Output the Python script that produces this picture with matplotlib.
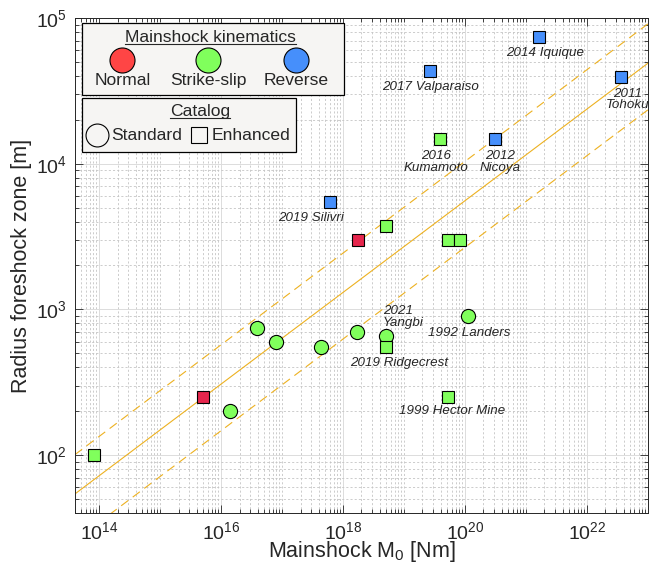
# -*- coding: utf-8 -*-

import matplotlib
matplotlib.use('Agg')
import matplotlib.pyplot as plt
from matplotlib.lines import Line2D
from matplotlib.patches import Rectangle
from matplotlib.ticker import FixedLocator, FuncFormatter, NullFormatter
import numpy as np

# standard catalog, strike-slip mainshocks (circles)
std_m0 = [1.38e16, 3.9e16, 7.8e16, 4.4e17, 1.67e18, 4.98e18, 1.11e20]
std_r = [199, 748, 598, 548, 702, 656, 904]

# enhanced catalog (squares)
enh_ss_m0 = [8.1e13, 4.98e18, 5.3e19, 8.1e19, 4.98e18, 5.3e19, 3.85e19]
enh_ss_r = [100, 3735, 2980, 2980, 553, 249, 14860]
enh_n_m0 = [5.0e15, 1.73e18]
enh_n_r = [249, 2980]
enh_rv_m0 = [6.07e17, 1.64e21, 2.67e19, 3.6e22, 3.05e20]
enh_rv_r = [5430, 74500, 43500, 39600, 14860]

# scaling relation and its bounds, end points over the x range
line_m0 = [4e13, 1e23]
line_mid = [54.1, 48980]
line_hi = [100.7, 91200]
line_lo = [25.9, 23440]

# event names: (M0, R, text)
events = [
    (6.07e17, 5430, '2019 Silivri'),
    (1.64e21, 74500, '2014 Iquique'),
    (2.67e19, 43500, '2017 Valparaiso'),
    (3.6e22, 39600, '2011\nTohoku'),
    (3.85e19, 14860, '2016\nKumamoto'),
    (3.05e20, 14860, '2012\nNicoya'),
    (4.98e18, 656, '2021\nYangbi'),
    (1.11e20, 904, '1992 Landers'),
    (4.98e18, 553, '2019 Ridgecrest'),
    (5.3e19, 249, '1999 Hector Mine'),
]
# label offsets in points and alignment
offsets = [(-13.5, -11.3, 'center'), (4.3, -11.7, 'center'), (0.5, -11.7, 'center'),
           (5, -16.5, 'center'), (-2.7, -16.8, 'center'), (3.8, -16.8, 'center'),
           (-2, 13.7, 'left'), (1.2, -12.5, 'center'), (9.6, -11.7, 'center'),
           (3.1, -9.9, 'center')]

col_n = '#ff4545'
col_n_sq = '#e6264d'
col_ss = '#80ff5c'
col_rv = '#468ffb'
col_line = '#EDB120'
col_txt = '#262626'

plt.rcParams['font.family'] = ['Liberation Sans', 'DejaVu Sans']
plt.rcParams['mathtext.fontset'] = 'custom'
plt.rcParams['mathtext.rm'] = 'Liberation Sans'
plt.rcParams['mathtext.it'] = 'Liberation Sans:italic'
plt.rcParams['mathtext.default'] = 'regular'

fig = plt.figure(figsize=(6.49, 5.65), dpi=100, facecolor='w')
ax = fig.add_axes([75 / 649, 1 - 513 / 565, 573 / 649, 495 / 565])
ax.set_xscale('log')
ax.set_yscale('log')
ax.set_xlim(4e13, 1e23)
ax.set_ylim(40, 1e5)

# ticks: labelled every second decade on x, every decade on y
xmaj = 10.0 ** np.arange(14, 23, 2)
xall = np.array([k * 10.0 ** n for n in range(13, 23) for k in range(1, 10)])
xmin = [v for v in xall if not np.any(np.isclose(v, xmaj))]
ymaj = 10.0 ** np.arange(2, 6)
ymin = [k * 10.0 ** n for n in range(1, 5) for k in range(2, 10)]
ax.xaxis.set_major_locator(FixedLocator(xmaj))
ax.xaxis.set_minor_locator(FixedLocator(xmin))
ax.yaxis.set_major_locator(FixedLocator(ymaj))
ax.yaxis.set_minor_locator(FixedLocator(ymin))
fmt = FuncFormatter(lambda v, p: r'$10^{%d}$' % int(round(np.log10(v))))
ax.xaxis.set_major_formatter(fmt)
ax.yaxis.set_major_formatter(fmt)
ax.xaxis.set_minor_formatter(NullFormatter())
ax.yaxis.set_minor_formatter(NullFormatter())
ax.tick_params(which='both', direction='in', top=True, right=True, colors=col_txt,
               width=0.6, labelsize=14)
ax.tick_params(which='major', length=5.5, pad=6)
ax.tick_params(which='minor', length=3)
for s in ax.spines.values():
    s.set_color(col_txt)
    s.set_linewidth(0.7)

ax.grid(which='major', color='#dcdcdc', linewidth=0.7, linestyle='-')
ax.grid(which='minor', color='#c4c4c4', linewidth=0.6, linestyle=(0, (2.5, 2.5)))
ax.set_axisbelow(True)

ax.set_xlabel(r'Mainshock M$_0$ [Nm]', fontsize=15.5, color=col_txt, labelpad=-3)
ax.set_ylabel('Radius foreshock zone [m]', fontsize=15.5, color=col_txt, labelpad=3)

# scaling lines
ax.plot(line_m0, line_mid, color=col_line, lw=0.8, zorder=2)
ax.plot(line_m0, line_hi, color=col_line, lw=0.8, ls=(0, (8, 5)), zorder=2)
ax.plot(line_m0, line_lo, color=col_line, lw=0.8, ls=(0, (8, 5)), zorder=2)

# events
ax.plot(std_m0, std_r, 'o', ms=10.2, mfc=col_ss, mec='k', mew=0.8, zorder=3)
ax.plot(enh_ss_m0, enh_ss_r, 's', ms=8.8, mfc=col_ss, mec='k', mew=0.8, zorder=4)
ax.plot(enh_n_m0, enh_n_r, 's', ms=8.8, mfc=col_n_sq, mec='k', mew=0.8, zorder=4)
ax.plot(enh_rv_m0, enh_rv_r, 's', ms=8.8, mfc=col_rv, mec='k', mew=0.8, zorder=4)

for (x, y, name), (dx, dy, ha) in zip(events, offsets):
    ax.annotate(name, xy=(x, y), xytext=(dx, dy), textcoords='offset points',
                ha=ha, va='center', style='italic', fontsize=9.6, color=col_txt,
                linespacing=0.95, zorder=5)

# legend boxes drawn by hand
tr = ax.transAxes
ax.add_patch(Rectangle((0.0117, 0.8444), 0.4578, 0.1449, transform=tr, fc='#f6f5f3',
                       ec='k', lw=0.9, zorder=6, clip_on=False))
ax.add_patch(Rectangle((0.0127, 0.7299), 0.3730, 0.1091, transform=tr, fc='#f6f5f3',
                       ec='k', lw=0.9, zorder=6, clip_on=False))

lfs = 12.6
t1 = ax.text(0.2368, 0.9596, 'Mainshock kinematics', transform=tr, ha='center',
             va='center', fontsize=lfs, color=col_txt, zorder=7)
kin = [('Normal', col_n, 0.0825), ('Strike-slip', col_ss, 0.2326), ('Reverse', col_rv, 0.3857)]
for name, c, fx in kin:
    ax.plot([fx], [0.9152], 'o', ms=18, mfc=c, mec='k', mew=0.8, transform=tr,
            clip_on=False, zorder=7)
    ax.text(fx, 0.8747, name, transform=tr, ha='center', va='center', fontsize=lfs,
            color=col_txt, zorder=7)

t2 = ax.text(0.2182, 0.8107, 'Catalog', transform=tr, ha='center', va='center',
             fontsize=lfs, color=col_txt, zorder=7)
ax.plot([0.0389], [0.7636], 'o', ms=16.5, mfc='none', mec='k', mew=0.8, transform=tr,
        clip_on=False, zorder=7)
ax.text(0.064, 0.7636, 'Standard', transform=tr, ha='left', va='center', fontsize=lfs,
        color=col_txt, zorder=7)
ax.plot([0.2169], [0.7636], 's', ms=12.2, mfc='none', mec='k', mew=0.8, transform=tr,
        clip_on=False, zorder=7)
ax.text(0.2386, 0.7636, 'Enhanced', transform=tr, ha='left', va='center', fontsize=lfs,
        color=col_txt, zorder=7)

# underline legend titles
fig.canvas.draw()
rend = fig.canvas.get_renderer()
for t in (t1, t2):
    bb = t.get_window_extent(rend)
    y = bb.y0 + 1
    fig.add_artist(Line2D([bb.x0 / fig.bbox.width, bb.x1 / fig.bbox.width],
                          [y / fig.bbox.height, y / fig.bbox.height],
                          color=col_txt, lw=0.8, zorder=8))

fig.savefig('out.png', dpi=100, facecolor='w')
